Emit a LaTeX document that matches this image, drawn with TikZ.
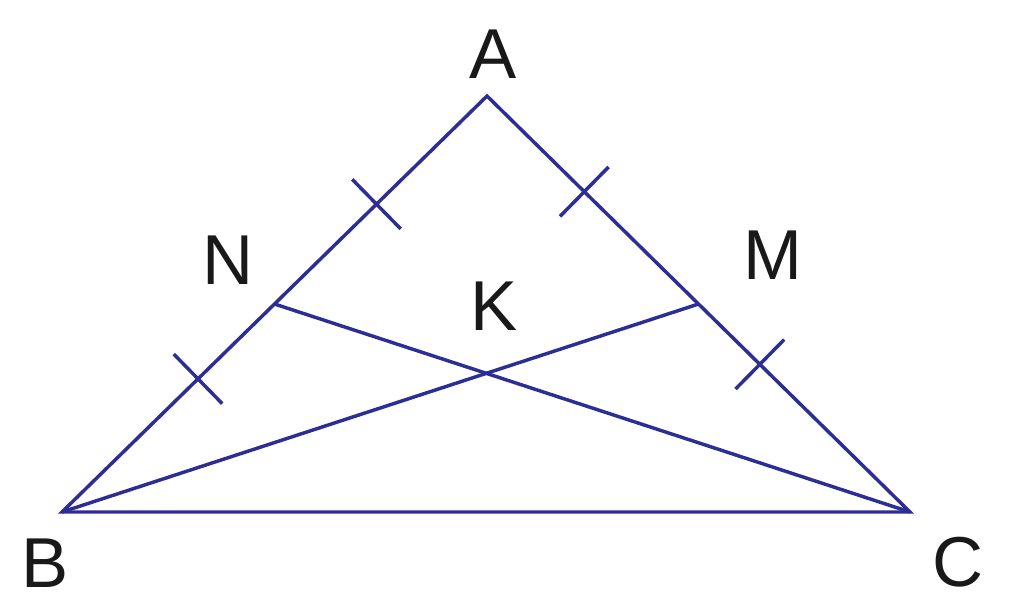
\documentclass[tikz,border=0pt]{standalone}
\usepackage{fontspec}
\setmainfont{Liberation Sans}
\usetikzlibrary{calc}
\tikzset{every picture/.style={line width=2.6pt}}

\begin{document}
\begin{tikzpicture}[x=0.75pt,y=0.75pt,yscale=-1,
  side/.style={color={rgb, 255:red, 45; green, 45; blue, 150 }, line join=miter},
  lbl/.style={text={rgb, 255:red, 25; green, 25; blue, 25 }, inner sep=0pt, font=\fontsize{53}{60}\selectfont}]
\useasboundingbox (0,0) rectangle (1024,613);

%Points
\coordinate (A) at (487,96);
\coordinate (B) at (62,512);
\coordinate (C) at (910,512);
\coordinate (N) at ($(A)!0.5!(B)$);
\coordinate (M) at ($(A)!0.5!(C)$);
\coordinate (K) at (intersection of N--C and B--M);

%Triangle and cevians
\draw [side] (A) -- (B) -- (C) -- cycle ;
\draw [side] (N) -- (C) ;
\draw [side] (B) -- (M) ;

%Tick marks
\coordinate (t1) at ($(A)!0.26!(B)$);
\coordinate (t2) at ($(A)!0.68!(B)$);
\coordinate (t3) at ($(A)!0.23!(C)$);
\coordinate (t4) at ($(A)!0.645!(C)$);
\foreach \t/\e in {t1/A,t2/A,t3/A,t4/A}
  \draw [side] ($(\t)!26pt!90:(\e)$) -- ($(\t)!26pt!-90:(\e)$) ;

%Labels
\node [lbl] (lA) at (493,54) {A};
\node [lbl] (lN) at (228,260) {N};
\node [lbl] (lM) at (773,255) {M};
\node [lbl] (lK) at (494,306) {K};
\node [lbl] (lB) at (45,563) {B};
\node [lbl] (lC) at (958,562) {C};

\end{tikzpicture}
\end{document}
